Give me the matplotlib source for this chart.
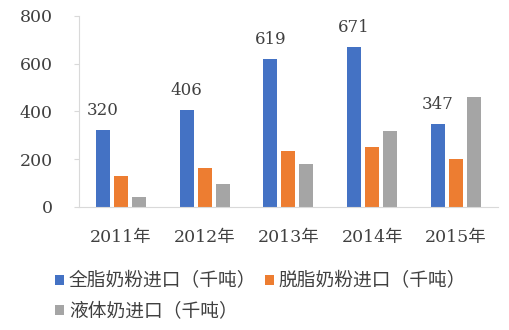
import matplotlib
matplotlib.use("Agg")
import matplotlib.pyplot as plt
import numpy as np
from matplotlib.patches import Patch

plt.rcParams['font.family'] = ['DejaVu Serif', 'Noto Sans CJK SC']

years = ['2011年', '2012年', '2013年', '2014年', '2015年']
whole_milk_powder = [320, 406, 619, 671, 347]
skim_milk_powder = [130, 163, 234, 251, 201]
liquid_milk = [42, 96, 180, 318, 460]
series_names = ['全脂奶粉进口（千吨）', '脱脂奶粉进口（千吨）', '液体奶进口（千吨）']
colors = ['#4472C4', '#ED7D31', '#A5A5A5']
text_color = '#404040'

fig = plt.figure(figsize=(5.1, 3.3), dpi=100)
ax = fig.add_axes([0.155, 0.373, 0.821, 0.579])

x = np.arange(len(years))
w = 0.167
step = 0.215
for i, (vals, c) in enumerate(zip([whole_milk_powder, skim_milk_powder, liquid_milk], colors)):
    ax.bar(x + (i - 1) * step, vals, width=w, color=c, zorder=2)

for xi, v in zip(x, whole_milk_powder):
    ax.annotate(f'{v}', (xi - step, v), xytext=(0, 8), textcoords='offset points',
                ha='center', va='bottom', fontsize=12, color=text_color)

ax.set_xlim(-0.5, len(years) - 0.5)
ax.set_ylim(0, 800)
ax.set_yticks([0, 200, 400, 600, 800])
ax.set_xticks(x)
ax.set_xticklabels(years)
ax.tick_params(axis='y', length=3.6, width=0.8, color='#D9D9D9', labelsize=12.5,
               labelcolor=text_color, pad=15.5)
ax.tick_params(axis='x', length=0, labelsize=12.5, labelcolor=text_color, pad=16)
for s in ['top', 'right']:
    ax.spines[s].set_visible(False)
ax.spines['left'].set_color('#D9D9D9')
ax.spines['bottom'].set_color('#D9D9D9')

handles = [Patch(facecolor=c) for c in colors]
order = [0, 2, 1]
fig.legend([handles[i] for i in order], [series_names[i] for i in order],
           ncol=2, loc='upper left', bbox_to_anchor=(0.108, 0.174),
           frameon=False, fontsize=13.5, handlelength=0.48, handleheight=0.48,
           handletextpad=0.25, columnspacing=0.45, labelspacing=0.63,
           borderaxespad=0, borderpad=0, labelcolor=text_color)

fig.savefig('out.png', dpi=100)
